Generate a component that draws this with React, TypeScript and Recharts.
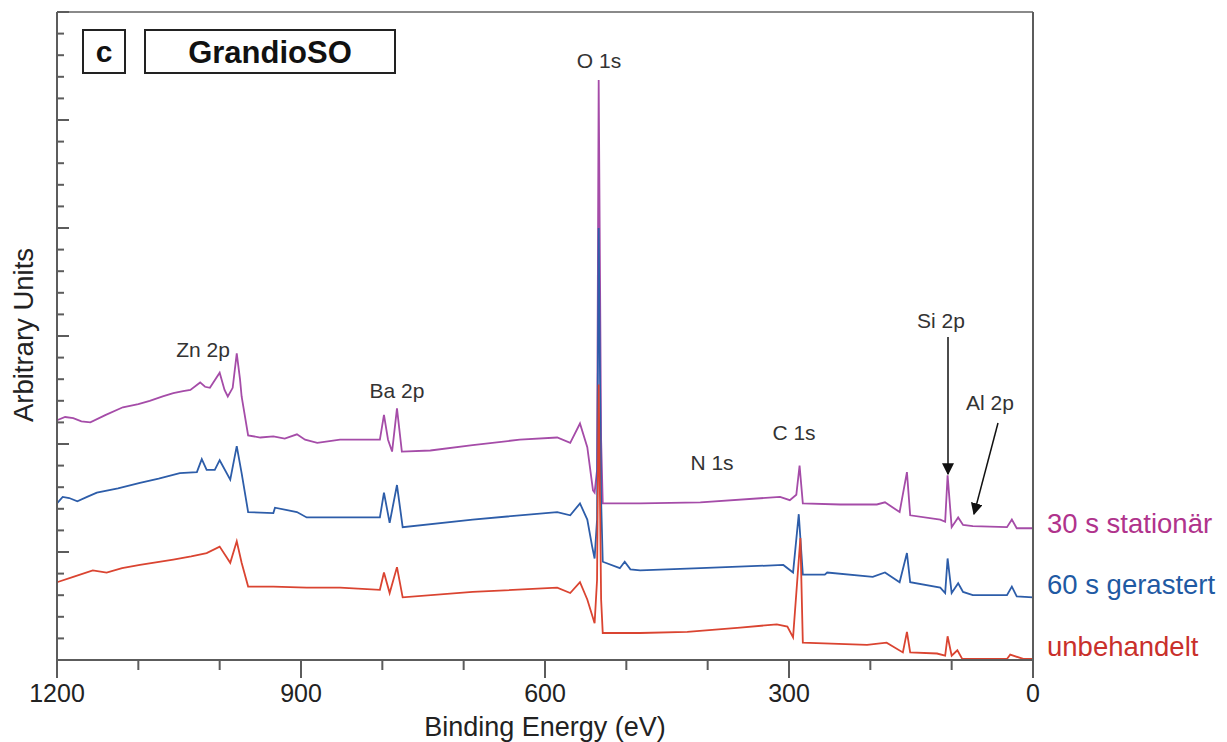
import React from 'react';
import { LineChart, Line, XAxis, YAxis, ReferenceLine } from 'recharts';

// binding energy (eV), arbitrary units
const stationaer: [number, number][] = [
  [1200, 2.22], [1190, 2.25], [1180, 2.24], [1170, 2.21], [1159, 2.20], [1140, 2.27],
  [1119, 2.34], [1100, 2.37], [1086, 2.40], [1070, 2.44], [1057, 2.47], [1045, 2.49],
  [1036, 2.50], [1024, 2.57], [1018, 2.53], [1012, 2.52], [1000, 2.66], [994, 2.50],
  [990, 2.44], [984, 2.52], [979, 2.84], [975, 2.60], [973, 2.44], [965, 2.08],
  [950, 2.06], [934, 2.07], [920, 2.05], [905, 2.09], [895, 2.04], [880, 2.01],
  [852, 2.04], [803, 2.04], [798, 2.27], [793, 2.04], [788, 1.93], [782, 2.33],
  [776, 1.93], [741, 1.94], [689, 1.99], [631, 2.04], [585, 2.06], [569, 2.01],
  [557, 2.19], [548, 1.97], [541, 1.57], [539, 1.55], [536, 1.76], [534, 5.37],
  [531, 2.04], [529, 1.45], [483, 1.45], [409, 1.46], [311, 1.51], [299, 1.48],
  [291, 1.53], [287, 1.80], [283, 1.45], [237, 1.44], [192, 1.44], [182, 1.46],
  [164, 1.37], [155, 1.74], [151, 1.34], [114, 1.30], [108, 1.28], [105, 1.71],
  [100, 1.23], [92, 1.32], [86, 1.25], [74, 1.24], [32, 1.23], [26, 1.30],
  [20, 1.22], [0, 1.22],
];

const gerastert: [number, number][] = [
  [1200, 1.45], [1193, 1.51], [1185, 1.50], [1175, 1.47], [1163, 1.51], [1151, 1.55],
  [1125, 1.59], [1098, 1.64], [1075, 1.68], [1049, 1.73], [1028, 1.74], [1022, 1.86],
  [1016, 1.76], [1006, 1.76], [1000, 1.85], [987, 1.67], [979, 1.98], [973, 1.73],
  [965, 1.37], [934, 1.36], [932, 1.41], [905, 1.37], [893, 1.32], [852, 1.32],
  [803, 1.32], [798, 1.55], [791, 1.27], [782, 1.62], [775, 1.23], [689, 1.30],
  [585, 1.37], [569, 1.34], [557, 1.45], [548, 1.30], [542, 1.05], [539, 0.94],
  [536, 1.30], [534, 4.00], [531, 1.48], [529, 0.91], [508, 0.85], [502, 0.91],
  [495, 0.84], [483, 0.83], [409, 0.85], [307, 0.88], [295, 0.81], [288, 1.35],
  [283, 0.79], [256, 0.79], [253, 0.81], [197, 0.77], [182, 0.81], [164, 0.72],
  [155, 0.99], [151, 0.72], [114, 0.67], [108, 0.62], [105, 0.94], [100, 0.62],
  [92, 0.71], [86, 0.63], [74, 0.60], [32, 0.60], [26, 0.68], [20, 0.59], [0, 0.58],
];

const unbehandelt: [number, number][] = [
  [1200, 0.72], [1180, 0.77], [1156, 0.83], [1139, 0.81], [1120, 0.85], [1098, 0.88],
  [1057, 0.93], [1035, 0.96], [1016, 0.99], [1000, 1.05], [987, 0.90], [979, 1.10],
  [973, 0.90], [965, 0.68], [934, 0.68], [893, 0.67], [852, 0.67], [803, 0.65],
  [798, 0.81], [791, 0.62], [782, 0.86], [775, 0.58], [689, 0.63], [585, 0.67],
  [569, 0.62], [557, 0.72], [548, 0.56], [539, 0.34], [536, 0.74], [534, 2.55],
  [531, 0.56], [529, 0.25], [483, 0.25], [425, 0.26], [360, 0.30], [315, 0.33],
  [302, 0.31], [295, 0.21], [286, 1.13], [283, 0.16], [204, 0.14], [180, 0.16],
  [160, 0.07], [155, 0.26], [151, 0.07], [118, 0.06], [108, 0.04], [105, 0.22],
  [100, 0.04], [93, 0.09], [87, 0.01], [32, 0.01], [28, 0.05], [12, 0.01], [0, 0.01],
];

const xTicks = [0, 100, 200, 300, 400, 500, 600, 700, 800, 900, 1000, 1100, 1200];
const yTicks = [
  0, 0.2, 0.4, 0.6, 0.8, 1, 1.2, 1.4, 1.6, 1.8, 2, 2.2, 2.4, 2.6, 2.8, 3,
  3.2, 3.4, 3.6, 3.8, 4, 4.2, 4.4, 4.6, 4.8, 5, 5.2, 5.4, 5.6, 5.8, 6,
];

const toRows = (pts: [number, number][]) => pts.map(([ev, au]) => ({ ev, au }));

const AXIS = '#5c5c5c';
const FONT = '"Liberation Sans", Arial, sans-serif';

const isMajorY = (v: number) => Math.abs(v - Math.round(v)) < 1e-6;

const XTick = (props: any) => {
  const { x, y, payload } = props;
  const major = payload.value % 300 === 0;
  return (
    <g>
      <line x1={x} x2={x} y1={y} y2={y + (major ? 18 : 10)} stroke={AXIS} strokeWidth={2} />
      {major && (
        <text x={x} y={y + 42} textAnchor="middle" fontSize={25} fill="#222" fontFamily={FONT}>
          {payload.value}
        </text>
      )}
    </g>
  );
};

const YTickLeft = (props: any) => {
  const { x, y, payload } = props;
  return <line x1={x} x2={x + (isMajorY(payload.value) ? 12 : 7)} y1={y} y2={y} stroke={AXIS} strokeWidth={2} />;
};

const YTickRight = (props: any) => {
  const { x, y, payload } = props;
  return <line x1={x} x2={x - (isMajorY(payload.value) ? 12 : 7)} y1={y} y2={y} stroke={AXIS} strokeWidth={2} />;
};

const peakLabels = [
  { text: 'Zn 2p', x: 203, y: 357 },
  { text: 'Ba 2p', x: 397, y: 398 },
  { text: 'O 1s', x: 599, y: 68 },
  { text: 'N 1s', x: 712, y: 470 },
  { text: 'C 1s', x: 794, y: 440 },
  { text: 'Si 2p', x: 941, y: 328 },
  { text: 'Al 2p', x: 990, y: 410 },
];

const App: React.FC = () => {
  return (
    <div style={{ position: 'absolute', left: 0, top: 0, width: 1227, height: 742, background: '#fff', fontFamily: FONT }}>
      <LineChart width={1227} height={742} margin={{ top: 12, right: 193, bottom: 81, left: 56 }}>
        <XAxis
          dataKey="ev"
          type="number"
          domain={[0, 1200]}
          reversed
          ticks={xTicks}
          interval={0}
          height={1}
          tickSize={0}
          tickMargin={0}
          tick={<XTick />}
          axisLine={{ stroke: AXIS, strokeWidth: 2 }}
          allowDuplicatedCategory={false}
        />
        <YAxis
          yAxisId="l"
          type="number"
          domain={[0, 6]}
          ticks={yTicks}
          interval={0}
          width={1}
          tickSize={0}
          tickMargin={0}
          tick={<YTickLeft />}
          axisLine={{ stroke: AXIS, strokeWidth: 2 }}
        />
        <YAxis
          yAxisId="r"
          orientation="right"
          type="number"
          domain={[0, 6]}
          ticks={yTicks}
          interval={0}
          width={1}
          tickSize={0}
          tickMargin={0}
          tick={<YTickRight />}
          axisLine={{ stroke: AXIS, strokeWidth: 2 }}
        />
        <ReferenceLine yAxisId="l" y={6} stroke="#8a8a8a" strokeWidth={2} />
        <Line yAxisId="l" data={toRows(stationaer)} dataKey="au" type="linear" stroke="#a54ca8" strokeWidth={1.8} dot={false} isAnimationActive={false} />
        <Line yAxisId="l" data={toRows(gerastert)} dataKey="au" type="linear" stroke="#2d5da9" strokeWidth={1.8} dot={false} isAnimationActive={false} />
        <Line yAxisId="l" data={toRows(unbehandelt)} dataKey="au" type="linear" stroke="#da4431" strokeWidth={1.8} dot={false} isAnimationActive={false} />
      </LineChart>
      <svg width={1227} height={742} style={{ position: 'absolute', left: 0, top: 0, pointerEvents: 'none' }}>
        <defs>
          <marker id="head" viewBox="0 0 10 10" refX="9" refY="5" markerWidth="8" markerHeight="8" orient="auto">
            <path d="M0,0 L10,5 L0,10 z" fill="#111" />
          </marker>
        </defs>
        <rect x={83} y={30} width={42} height={43} fill="#fff" stroke="#222" strokeWidth={2} />
        <text x={104} y={62} textAnchor="middle" fontSize={30} fontWeight="bold" fill="#111" fontFamily={FONT}>c</text>
        <rect x={145} y={30} width={250} height={43} fill="#fff" stroke="#222" strokeWidth={2} />
        <text x={270} y={63} textAnchor="middle" fontSize={31} fontWeight="bold" fill="#111" fontFamily={FONT}>GrandioSO</text>
        {peakLabels.map((l) => (
          <text key={l.text} x={l.x} y={l.y} textAnchor="middle" fontSize={21} fill="#333" fontFamily={FONT}>{l.text}</text>
        ))}
        <line x1={948} y1={337} x2={948} y2={474} stroke="#111" strokeWidth={1.5} markerEnd="url(#head)" />
        <line x1={998} y1={423} x2={974} y2={514} stroke="#111" strokeWidth={1.5} markerEnd="url(#head)" />
        <text x={1047} y={533} fontSize={27.5} fill="#b0338c" fontFamily={FONT}>30 s stationär</text>
        <text x={1047} y={594} fontSize={27.5} fill="#1f5aa3" fontFamily={FONT}>60 s gerastert</text>
        <text x={1047} y={656} fontSize={27.5} fill="#c9302b" fontFamily={FONT}>unbehandelt</text>
        <text x={545} y={736} textAnchor="middle" fontSize={27} fill="#222" fontFamily={FONT}>Binding Energy (eV)</text>
        <text x={33} y={335} textAnchor="middle" fontSize={27.5} fill="#222" fontFamily={FONT} transform="rotate(-90, 33, 335)">Arbitrary Units</text>
      </svg>
    </div>
  );
};

export default App;
